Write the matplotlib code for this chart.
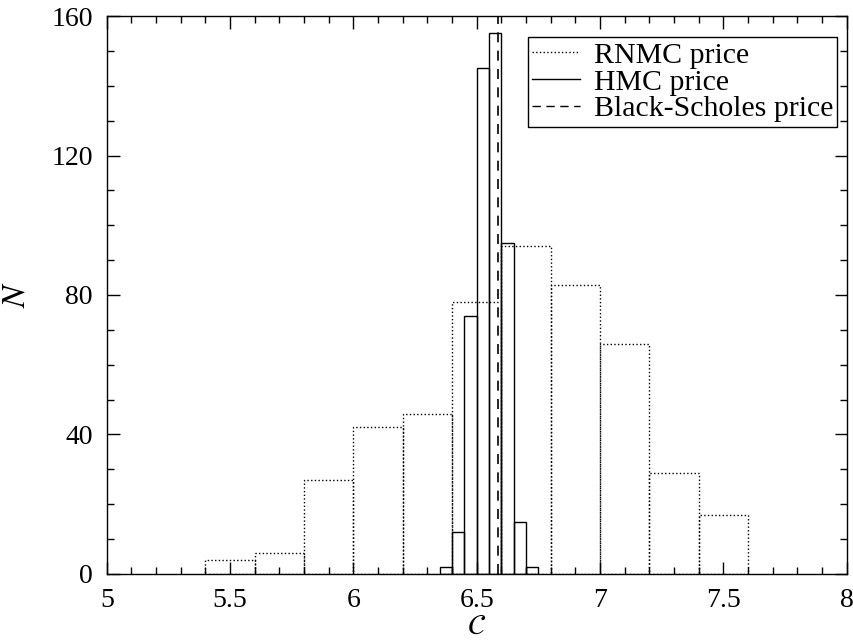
import matplotlib
matplotlib.use('Agg')
import matplotlib.pyplot as plt
from matplotlib.lines import Line2D
from matplotlib.ticker import MultipleLocator

# histogram data
rnmc_edges = [5.4, 5.6, 5.8, 6.0, 6.2, 6.4, 6.6, 6.8, 7.0, 7.2, 7.4, 7.6]
rnmc_counts = [4, 6, 27, 42, 46, 78, 94, 83, 66, 29, 17]
hmc_edges = [6.35, 6.40, 6.45, 6.50, 6.55, 6.60, 6.65, 6.70, 6.75]
hmc_counts = [2, 12, 74, 145, 155, 95, 15, 2]
bs_price = 6.585

plt.rcParams['font.family'] = ['Liberation Serif', 'DejaVu Serif']
plt.rcParams['mathtext.fontset'] = 'stix'
plt.rcParams['font.size'] = 20

fig = plt.figure(figsize=(8.54, 6.42), dpi=100)
ax = fig.add_axes([0.125, 0.106, 0.8664, 0.869])

# RNMC histogram (dotted outline)
ax.bar(rnmc_edges[:-1], rnmc_counts,
       width=[b - a for a, b in zip(rnmc_edges[:-1], rnmc_edges[1:])],
       align='edge', fill=False, edgecolor='black', linestyle=':', linewidth=1.0)

# HMC histogram (solid outline)
ax.bar(hmc_edges[:-1], hmc_counts,
       width=[b - a for a, b in zip(hmc_edges[:-1], hmc_edges[1:])],
       align='edge', fill=False, edgecolor='black', linestyle='-', linewidth=1.0)

# Black-Scholes price
ax.axvline(bs_price, color='black', linestyle=(0, (6, 5)), linewidth=1.2)

ax.set_xlim(5, 8)
ax.set_ylim(0, 160)
ax.xaxis.set_major_locator(MultipleLocator(0.5))
ax.xaxis.set_minor_locator(MultipleLocator(0.1))
ax.yaxis.set_major_locator(MultipleLocator(40))
ax.yaxis.set_minor_locator(MultipleLocator(10))
ax.xaxis.set_major_formatter(plt.FuncFormatter(lambda v, p: f'{v:g}'))
ax.tick_params(which='both', direction='in', top=True, right=True, width=1)
ax.tick_params(which='major', length=9, pad=10)
ax.tick_params(which='minor', length=5)
for s in ax.spines.values():
    s.set_linewidth(1)

ax.set_xlabel(r'$\mathcal{C}$', fontsize=21, labelpad=1)
ax.set_ylabel(r'$N$', fontsize=24, labelpad=14)

handles = [Line2D([], [], color='black', linestyle=':', linewidth=1),
           Line2D([], [], color='black', linestyle='-', linewidth=1),
           Line2D([], [], color='black', linestyle=(0, (6, 4)), linewidth=1)]
leg = ax.legend(handles, ['RNMC price', 'HMC price', 'Black-Scholes price'],
                loc='upper right', bbox_to_anchor=(0.9875, 0.962),
                fancybox=False, edgecolor='black', framealpha=1,
                prop={'size': 21.5},
                handlelength=1.6, handletextpad=0.45, labelspacing=0.0,
                borderpad=0.15, borderaxespad=0)
leg.get_frame().set_linewidth(1)

fig.savefig('out.png', dpi=100)
